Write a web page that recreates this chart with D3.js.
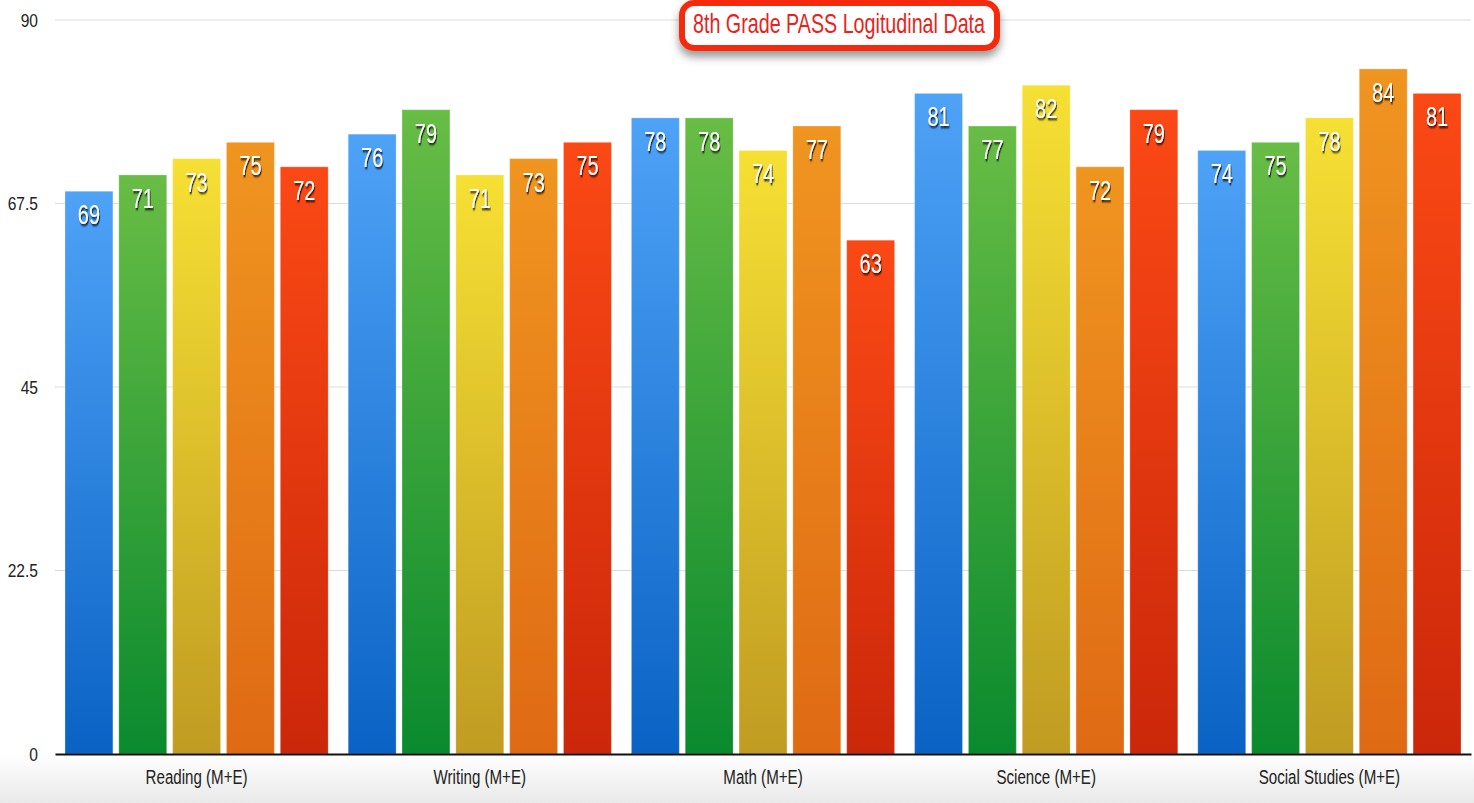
<!DOCTYPE html>
<html><head><meta charset="utf-8">
<script src="https://cdn.jsdelivr.net/npm/d3@7"></script>
<style>html,body{margin:0;padding:0;background:#fff;overflow:hidden}</style>
</head><body>
<svg id="chart" width="1474" height="803"></svg>
<script>
const categories = ["Reading (M+E)", "Writing (M+E)", "Math (M+E)", "Science (M+E)", "Social Studies (M+E)"];
const seriesNames = ["Series 1", "Series 2", "Series 3", "Series 4", "Series 5"];
const series1 = [69, 76, 78, 81, 74];
const series2 = [71, 79, 78, 77, 75];
const series3 = [73, 71, 74, 82, 78];
const series4 = [75, 73, 77, 72, 84];
const series5 = [72, 75, 63, 79, 81];
const yTicks = [0, 22.5, 45, 67.5, 90];
const title = "8th Grade PASS Logitudinal Data";

(function () {
const allSeries = [series1, series2, series3, series4, series5];
const gradColors = [
  ["#4ea3f7", "#0a62c4"],
  ["#68bd45", "#0a8a2e"],
  ["#f7e034", "#c09c22"],
  ["#f09520", "#df6a14"],
  ["#fb4915", "#cb270a"]
];
const FONT = "'Liberation Sans', Arial, sans-serif";

const svg = d3.select("#chart");
const W = 1474, H = 803;
const mLeft = 55, mRight = 1471, mTop = 20, mBottom = 754;

const defs = svg.append("defs");
const bg = defs.append("linearGradient").attr("id", "bgGrad").attr("x1", 0).attr("y1", 0).attr("x2", 0).attr("y2", 1);
bg.append("stop").attr("offset", "0%").attr("stop-color", "#ffffff");
bg.append("stop").attr("offset", "100%").attr("stop-color", "#e9e9e9");
gradColors.forEach((c, i) => {
  const g = defs.append("linearGradient").attr("id", "g" + i).attr("x1", 0).attr("y1", 0).attr("x2", 0).attr("y2", 1);
  g.append("stop").attr("offset", "0%").attr("stop-color", c[0]);
  g.append("stop").attr("offset", "100%").attr("stop-color", c[1]);
});
const sh = defs.append("filter").attr("id", "tshadow").attr("x", "-30%").attr("y", "-30%").attr("width", "160%").attr("height", "160%");
sh.append("feDropShadow").attr("dx", 1).attr("dy", 2).attr("stdDeviation", 0.9).attr("flood-color", "#000").attr("flood-opacity", 0.9);
const bs = defs.append("filter").attr("id", "bshadow").attr("x", "-20%").attr("y", "-40%").attr("width", "140%").attr("height", "200%");
bs.append("feDropShadow").attr("dx", 0).attr("dy", 6).attr("stdDeviation", 4).attr("flood-color", "#000").attr("flood-opacity", 0.4);

svg.append("rect").attr("x", 0).attr("y", 0).attr("width", W).attr("height", H).attr("fill", "#fff");
svg.append("rect").attr("x", 0).attr("y", mBottom).attr("width", W).attr("height", H - mBottom).attr("fill", "url(#bgGrad)");

const y = d3.scaleLinear().domain([0, 90]).range([mBottom, mTop]);
const x0 = d3.scaleBand().domain(categories).range([mLeft, mRight]).paddingInner(0).paddingOuter(0);
const x1 = d3.scaleBand().domain(d3.range(seriesNames.length)).range([10, x0.bandwidth() - 10]).paddingInner(0.11).paddingOuter(0);

// grid lines
svg.append("g").selectAll("line").data(yTicks.filter(t => t > 0)).join("line")
  .attr("x1", mLeft).attr("x2", mRight).attr("y1", d => y(d)).attr("y2", d => y(d))
  .attr("stroke", "#dcdcdc").attr("stroke-width", 1);

// y tick labels
const ySX = 0.82;
const yAxis = svg.append("g").attr("transform", `translate(${mLeft},0)`)
  .call(d3.axisLeft(y).tickValues(yTicks).tickSize(0).tickPadding(17).tickFormat(d => d));
yAxis.select(".domain").remove();
yAxis.selectAll("text").attr("font-family", FONT).attr("font-size", 19).attr("fill", "#222")
  .attr("x", -17 / ySX).attr("transform", `scale(${ySX},1)`);

// bars
const lSX = 0.74;
const groups = svg.append("g").selectAll("g").data(categories).join("g")
  .attr("transform", d => `translate(${x0(d)},0)`);
groups.each(function(cat, ci) {
  const g = d3.select(this);
  const data = allSeries.map((s, si) => ({ si, v: s[ci] }));
  g.selectAll("rect").data(data).join("rect")
    .attr("x", d => x1(d.si)).attr("y", d => y(d.v))
    .attr("width", x1.bandwidth()).attr("height", d => y(0) - y(d.v))
    .attr("fill", d => `url(#g${d.si})`)
    .attr("stroke", "rgba(255,255,255,0.25)").attr("stroke-width", 1);
  g.selectAll("text").data(data).join("text")
    .attr("transform", d => `translate(${x1(d.si) + x1.bandwidth() / 2},${y(d.v) + 33}) scale(${lSX},1)`)
    .attr("text-anchor", "middle").attr("font-family", FONT).attr("font-size", 27)
    .attr("fill", "#fff").attr("filter", "url(#tshadow)").text(d => d.v);
});

// x axis
const xAxis = svg.append("g").attr("transform", `translate(0,${mBottom})`)
  .call(d3.axisBottom(x0).tickSize(0).tickPadding(15));
xAxis.select(".domain").attr("stroke", "#111").attr("stroke-width", 2);
xAxis.selectAll("text").attr("font-family", FONT).attr("font-size", 21).attr("fill", "#222")
  .attr("transform", "scale(0.72,1)");

// title box
const tb = svg.append("g");
tb.append("rect").attr("x", 682).attr("y", 3).attr("width", 315).attr("height", 45)
  .attr("rx", 12).attr("ry", 12).attr("fill", "#fff").attr("stroke", "#f52a0c").attr("stroke-width", 6)
  .attr("filter", "url(#bshadow)");
tb.append("text").attr("transform", "translate(839,33) scale(0.73,1)").attr("text-anchor", "middle")
  .attr("font-family", FONT).attr("font-size", 27).attr("fill", "#e8231a").text(title);
})();
</script>
</body></html>
